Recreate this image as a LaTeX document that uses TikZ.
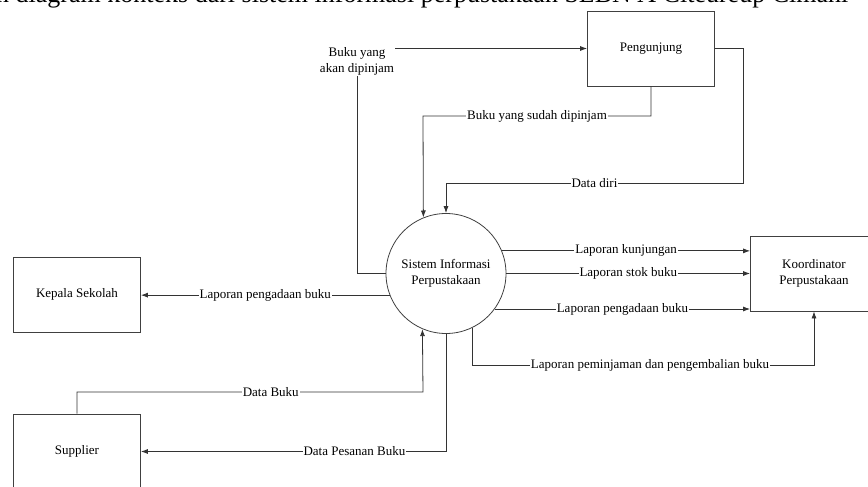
\documentclass[tikz,border=0pt]{standalone}
\usepackage{fontspec}
\setmainfont{Liberation Serif}
\usetikzlibrary{calc,arrows.meta}
\tikzstyle{entity}=[draw=black!75,line width=0.8pt,minimum width=127pt,minimum height=75pt,inner sep=0pt,align=center,font=\fontsize{13}{16}\selectfont]
\tikzstyle{process}=[draw=black!75,line width=0.8pt,circle,minimum size=120pt,inner sep=0pt,align=center,font=\fontsize{13}{16}\selectfont]
\tikzstyle{flow}=[draw=black!80,line width=0.8pt,-{Latex[length=7pt,width=5pt]}]
\tikzstyle{flowlabel}=[fill=white,inner sep=1pt,align=center,font=\fontsize{13}{16}\selectfont]
\begin{document}
\begin{tikzpicture}[x=1pt,y=-1pt]
	\useasboundingbox (0,0) rectangle (868,487);
	\clip (0,0) rectangle (868,487);
	% caption, cut off by the top edge
	\node[anchor=base west,inner sep=0pt,font=\fontsize{26}{30}\selectfont] (caption) at (-4,3) {n diagram konteks dari sistem informasi perpustakaan SLBN A Citeureup Cimahi};
	% entities and process
	\node[process] (sistem) at (446,273.5) {Sistem Informasi\\Perpustakaan};
	\node[entity] (pengunjung) at (651,48.5) {Pengunjung};
	\node[entity] (kepala) at (77,294.5) {Kepala Sekolah};
	\node[entity] (supplier) at (77,451.5) {Supplier};
	\node[entity] (koordinator) at (814,273.5) {Koordinator\\Perpustakaan};
	% bends
	\coordinate (k1) at (357,48.5);
	\coordinate (k2) at (423,116);
	\coordinate (k3) at (743,183);
	\coordinate (k7) at (814,365);
	\coordinate (k9) at (423,392);
	% flows with pengunjung
	\draw[flow] (sistem.west) -| (k1) -- (pengunjung.west);
	\node[flowlabel] (lpinjam) at (357,61) {Buku yang\\akan dipinjam};
	\draw[flow] (pengunjung.south) |- node[flowlabel,pos=0.75] (lsudah) {Buku yang sudah dipinjam} (k2) -- (sistem.112.5);
	\draw[flow] (pengunjung.east) -| (k3) -| node[flowlabel,pos=0.25] (ldiri) {Data diri} (sistem.north);
	% flows to koordinator
	\draw[flow] (sistem.22.5) -- node[flowlabel] (lkunjungan) {Laporan kunjungan} (sistem.22.5 -| koordinator.west);
	\draw[flow] (sistem.east) -- node[flowlabel] (lstok) {Laporan stok buku} (koordinator.west);
	\draw[flow] (sistem.-36.9) -- node[flowlabel] (lpengadaan) {Laporan pengadaan buku} (sistem.-36.9 -| koordinator.west);
	\draw[flow] (sistem.-64.3) |- node[flowlabel,pos=0.76] (lpeminjaman) {Laporan peminjaman dan pengembalian buku} (k7) -- (koordinator.south);
	% kepala sekolah and supplier
	\draw[flow] (sistem.201.5) -- node[flowlabel] (lkepala) {Laporan pengadaan buku} (sistem.201.5 -| kepala.east);
	\draw[flow] (supplier.north) |- node[flowlabel,pos=0.78] (ldatabuku) {Data Buku} (k9) -- (sistem.247.5);
	\draw[flow] (sistem.south) |- node[flowlabel,pos=0.65] (lpesanan) {Data Pesanan Buku} (supplier.east);
\end{tikzpicture}
\end{document}
